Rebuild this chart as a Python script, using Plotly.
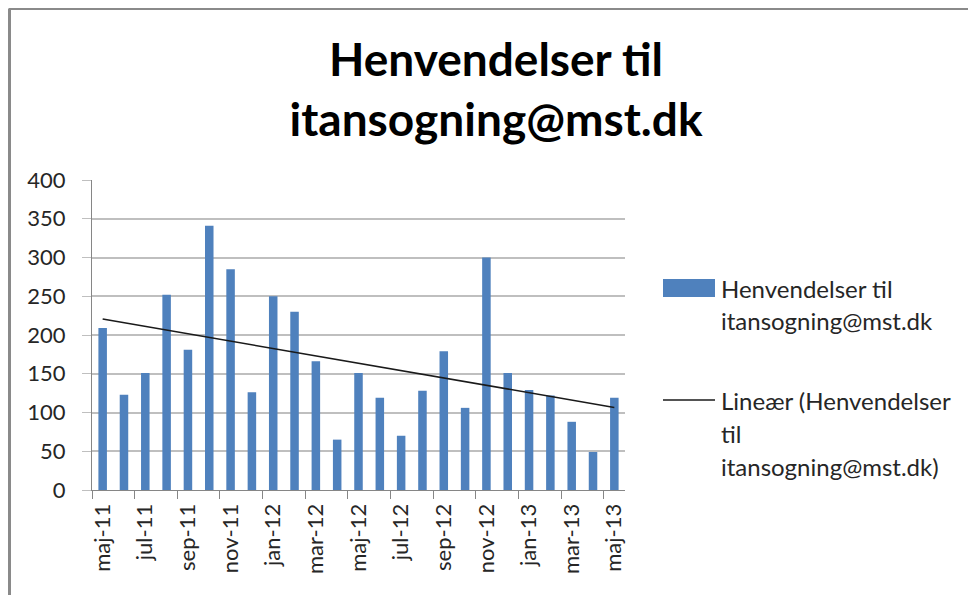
import numpy as np
import plotly.graph_objects as go

months = ["maj-11", "jun-11", "jul-11", "aug-11", "sep-11", "okt-11", "nov-11", "dec-11",
          "jan-12", "feb-12", "mar-12", "apr-12", "maj-12", "jun-12", "jul-12", "aug-12",
          "sep-12", "okt-12", "nov-12", "dec-12", "jan-13", "feb-13", "mar-13", "apr-13", "maj-13"]
values = [209, 123, 151, 252, 181, 341, 285, 126, 250, 230, 166, 65, 151, 119, 70, 128,
          179, 106, 300, 151, 129, 122, 88, 49, 119]
y_ticks = [0, 50, 100, 150, 200, 250, 300, 350, 400]

series_lines = ["Henvendelser til", "itansogning@mst.dk"]
trend_lines = ["Lineær (Henvendelser", "til", "itansogning@mst.dk)"]
title_text = "<b>Henvendelser til<br>itansogning@mst.dk</b>"

xi = np.arange(len(months))
slope, intercept = np.polyfit(xi + 1, values, 1)
trend = slope * (xi + 1) + intercept

FONT = "Lato, Carlito, Open Sans, sans-serif"
TXT = "#262626"
BAR = "#4F81BD"

# page is drawn with an 8px body margin: plot area page x 92..625, y 180..490
W, H = 968, 587
L, T, R, B = 84, 172, 351, 105
PW, PH = W - L - R, H - T - B


def px(page_x):
    return (page_x - 92) / PW


def py(page_y):
    return (490 - page_y) / PH


fig = go.Figure()
fig.add_trace(go.Bar(x=xi, y=values, name=" ".join(series_lines), marker=dict(color=BAR, line=dict(width=0)),
                     showlegend=False))
fig.add_trace(go.Scatter(x=[xi[0], xi[-1]], y=[trend[0], trend[-1]], mode="lines", name=" ".join(trend_lines),
                         line=dict(color="#1a1a1a", width=1.5), showlegend=False))

fig.update_layout(
    width=W, height=H,
    margin=dict(l=L, r=R, t=T, b=B),
    paper_bgcolor="white", plot_bgcolor="white",
    font=dict(family=FONT, size=22, color=TXT),
    bargap=0.6,
    title=dict(text=title_text, x=488 / W, xanchor="center", y=1 - 68 / H, yanchor="middle",
               font=dict(family=FONT, size=46, color="black")),
    showlegend=False,
)
fig.update_xaxes(
    range=[-0.5, len(months) - 0.5],
    tickmode="array", tickvals=xi[::2], ticktext=months[::2], tickangle=-90,
    ticks="", showgrid=False, zeroline=False,
    showline=True, linecolor="#868686", linewidth=1,
    minor=dict(tickmode="array", tickvals=list(np.arange(-0.5, len(months), 2)), ticks="outside",
               ticklen=8, tickcolor="#868686", showgrid=False),
    tickfont=dict(size=22, color=TXT),
    ticklabelstandoff=4,
)
fig.update_yaxes(
    range=[0, 400], tickmode="array", tickvals=y_ticks,
    showgrid=True, gridcolor="#BFBFBF", gridwidth=1.5,
    ticks="outside", ticklen=9, tickcolor="#BFBFBF",
    showline=True, linecolor="#868686", linewidth=1, zeroline=False,
    tickfont=dict(size=22, color=TXT),
    ticklabelstandoff=12,
)

# legend drawn Excel-style
fig.add_shape(type="rect", xref="paper", yref="paper", x0=px(663), x1=px(715), y0=py(297), y1=py(279),
              fillcolor=BAR, line=dict(width=0))
fig.add_shape(type="line", xref="paper", yref="paper", x0=px(663), x1=px(715), y0=py(400), y1=py(400),
              line=dict(color="#1a1a1a", width=1.5))
for txt, yy in zip(series_lines + trend_lines, [288, 320, 400, 433, 466]):
    fig.add_annotation(text=txt, xref="paper", yref="paper", x=px(719), y=py(yy), xanchor="left",
                       yanchor="middle", showarrow=False, font=dict(size=24, color=TXT, family=FONT))

# frame of the chart area (top and left edges visible)
fig.add_shape(type="line", xref="paper", yref="paper", x0=px(9), x1=px(1000),
              y0=py(8.5), y1=py(8.5), line=dict(color="#8A8A8A", width=3))
fig.add_shape(type="line", xref="paper", yref="paper", x0=px(9.5), x1=px(9.5),
              y0=py(8.5), y1=py(620), line=dict(color="#8A8A8A", width=3))

fig.write_html("out.html")
